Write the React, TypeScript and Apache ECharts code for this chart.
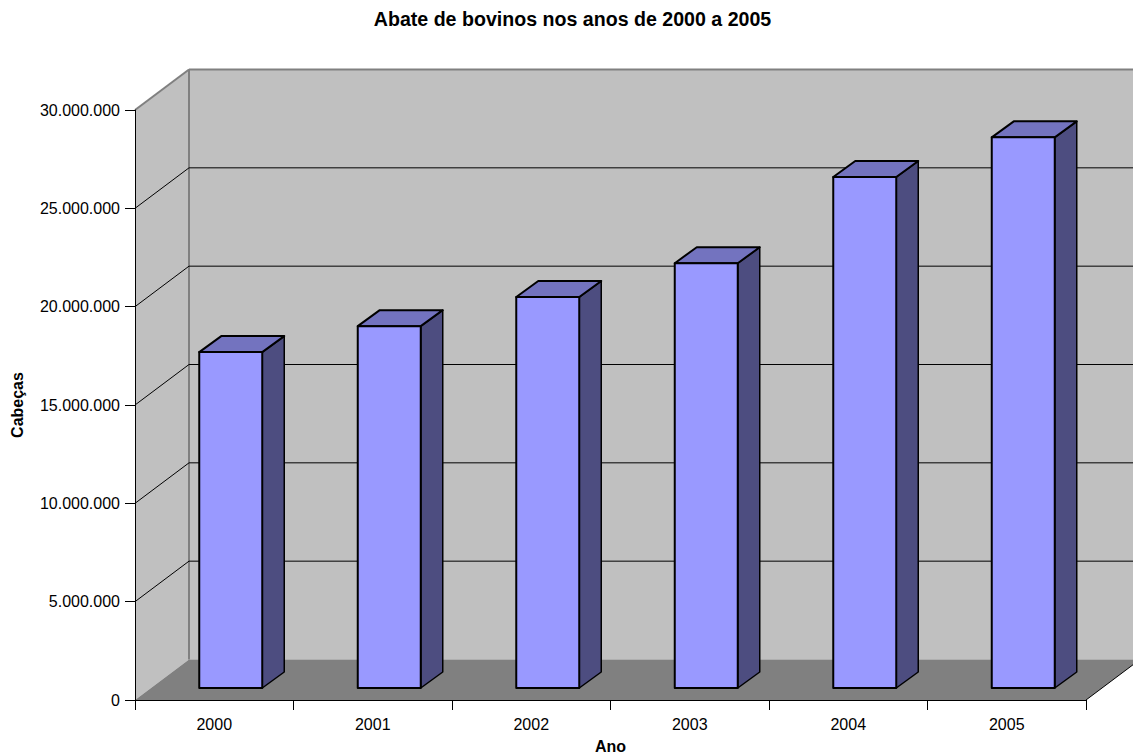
import React, { useEffect, useRef } from "react";
import * as echarts from "echarts";

const years = ["2000", "2001", "2002", "2003", "2004", "2005"];
const abates = [17080000, 18400000, 19880000, 21600000, 25980000, 28000000];
const gridValues = [5000000, 10000000, 15000000, 20000000, 25000000, 30000000];
const titleText = "Abate de bovinos nos anos de 2000 a 2005";
const xName = "Ano";
const yName = "Cabeças";

const FONT = "'Liberation Sans', Arial, sans-serif";
const DX = 54;
const DY = -40.5;
const BAR_W = 63;
const BAR_SHIFT = 16.5;
const BAR_DX = 22;
const BAR_DY = -16;
const BAR_LIFT = 12;
const WALL = "#C0C0C0";
const FLOOR = "#808080";

const fmt = (v: number) => String(Math.round(v)).replace(/\B(?=(\d{3})+(?!\d))/g, ".");

export default function App() {
  const ref = useRef<HTMLDivElement>(null);
  useEffect(() => {
    const chart = echarts.init(ref.current!, undefined, { renderer: "svg" });
    chart.setOption({
      animation: false,
      backgroundColor: "#fff",
      title: {
        text: titleText,
        left: 567.5,
        top: 4,
        textAlign: "center",
        textStyle: { fontFamily: FONT, fontSize: 19.6, fontWeight: "bold", color: "#000" },
      },
      grid: { left: 135, top: 110, width: 951, height: 590, containLabel: false, outerBoundsMode: "none" },
      xAxis: {
        type: "category",
        data: years,
        name: xName,
        nameLocation: "middle",
        nameGap: 38,
        nameTextStyle: { fontFamily: FONT, fontSize: 16, fontWeight: "bold", color: "#000" },
        axisLine: { show: true, lineStyle: { color: "#000", width: 1 } },
        axisTick: { show: true, length: 10, lineStyle: { color: "#000" } },
        axisLabel: { fontFamily: FONT, fontSize: 16, color: "#000", margin: 16 },
      },
      yAxis: {
        type: "value",
        min: 0,
        max: 30000000,
        interval: 5000000,
        name: yName,
        nameLocation: "middle",
        nameGap: 110,
        nameTextStyle: { fontFamily: FONT, fontSize: 16, fontWeight: "bold", color: "#000" },
        axisLine: { show: true, lineStyle: { color: "#000", width: 1 } },
        axisTick: { show: true, length: 10, lineStyle: { color: "#000" } },
        axisLabel: { fontFamily: FONT, fontSize: 16, color: "#000", margin: 15, formatter: (v: number) => fmt(v) },
        splitLine: { show: false },
      },
      series: [
        {
          type: "custom",
          coordinateSystem: "cartesian2d",
          z: -2,
          silent: true,
          data: [[0, 0]],
          renderItem: (p: any) => {
            const { x, y, width: w, height: h } = p.coordSys;
            const b = y + h;
            const border = { stroke: FLOOR, lineWidth: 2 };
            return {
              type: "group",
              children: [
                { type: "polygon", shape: { points: [[x + DX, y + DY], [x + w + DX, y + DY], [x + w + DX, b + DY], [x + DX, b + DY]] }, style: { fill: WALL, stroke: "none" } },
                { type: "polygon", shape: { points: [[x, y], [x + DX, y + DY], [x + DX, b + DY], [x, b]] }, style: { fill: WALL, stroke: "none" } },
                { type: "polygon", shape: { points: [[x, b], [x + DX, b + DY], [x + w + DX, b + DY], [x + w, b]] }, style: { fill: FLOOR, stroke: "none" } },
                { type: "line", shape: { x1: x + DX, y1: y + DY, x2: x + w + DX, y2: y + DY }, style: border },
                { type: "line", shape: { x1: x, y1: y, x2: x + DX, y2: y + DY }, style: border },
                { type: "line", shape: { x1: x + DX, y1: y + DY, x2: x + DX, y2: b + DY }, style: border },
                { type: "line", shape: { x1: x + w, y1: b, x2: x + w + DX, y2: b + DY }, style: { stroke: "#000", lineWidth: 1 } },
              ],
            };
          },
        },
        {
          type: "custom",
          coordinateSystem: "cartesian2d",
          z: -1,
          silent: true,
          data: gridValues.slice(0, -1).map((v) => [0, v]),
          renderItem: (p: any, api: any) => {
            const { x, width: w } = p.coordSys;
            const py = api.coord([0, api.value(1)])[1];
            const line = { stroke: "#000", lineWidth: 1, fill: "none" };
            return {
              type: "polyline",
              shape: { points: [[x, py], [x + DX, py + DY], [x + w + DX, py + DY]] },
              style: line,
            };
          },
        },
        {
          type: "custom",
          coordinateSystem: "cartesian2d",
          z: 3,
          data: abates.map((v, i) => [i, v]),
          renderItem: (_p: any, api: any) => {
            const i = api.value(0);
            const [cx, topY] = api.coord([i, api.value(1)]);
            const [, baseY] = api.coord([i, 0]);
            const l = cx + BAR_SHIFT - BAR_W / 2;
            const r = l + BAR_W;
            const t = topY - BAR_LIFT;
            const bt = baseY - BAR_LIFT;
            const stroke = { stroke: "#000", lineWidth: 2, lineJoin: "round" };
            return {
              type: "group",
              children: [
                { type: "polygon", shape: { points: [[r, t], [r + BAR_DX, t + BAR_DY], [r + BAR_DX, bt + BAR_DY], [r, bt]] }, style: { fill: "#4D4D80", stroke: "#000", lineWidth: 1.5, lineJoin: "round" } },
                { type: "polygon", shape: { points: [[l, t], [l + BAR_DX, t + BAR_DY], [r + BAR_DX, t + BAR_DY], [r, t]] }, style: { fill: "#7373BF", ...stroke } },
                { type: "rect", shape: { x: l, y: t, width: BAR_W, height: bt - t }, style: { fill: "#9999FF", ...stroke } },
              ],
            };
          },
        },
      ],
    });
    return () => chart.dispose();
  }, []);
  return <div ref={ref} style={{ position: "fixed", left: 0, top: 0, width: 1133, height: 755 }} />;
}
